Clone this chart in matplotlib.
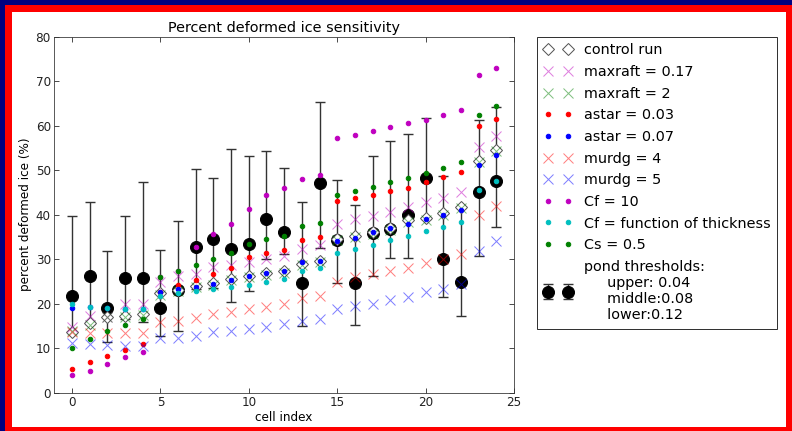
import matplotlib
matplotlib.use("Agg")
import matplotlib.pyplot as plt
import matplotlib.patches as mpatches
import numpy as np

cells = np.arange(25)

control = [13.6, 15.6, 16.9, 17.3, 17.7, 22.3, 23.1, 24.0, 24.6, 25.6, 26.3, 26.8, 27.3,
           29.0, 29.7, 34.5, 35.3, 36.0, 36.9, 38.7, 39.2, 40.3, 41.7, 52.1, 54.5]
maxraft_017 = [14.8, 17.3, 17.0, 19.9, 19.9, 24.9, 26.3, 26.7, 28.2, 28.8, 29.4, 30.1, 30.8,
               32.3, 33.2, 38.0, 39.0, 39.7, 40.6, 41.8, 42.8, 43.8, 45.0, 55.1, 57.6]
maxraft_2 = [13.9, 15.3, 17.1, 17.0, 17.5, 22.0, 22.8, 23.7, 24.3, 25.3, 26.0, 26.5, 27.0,
             28.7, 29.4, 34.2, 35.0, 35.7, 36.6, 38.4, 38.9, 40.0, 41.4, 51.8, 54.2]
astar_003 = [5.4, 6.8, 8.2, 9.6, 10.9, 22.6, 24.1, 25.4, 26.7, 28.1, 30.4, 31.5, 32.1,
             34.3, 35.0, 43.0, 43.7, 44.4, 45.3, 46.1, 47.3, 48.5, 49.7, 59.9, 61.6]
astar_007 = [19.1, 19.2, 19.0, 18.7, 18.7, 22.6, 23.3, 23.8, 24.5, 25.3, 26.2, 26.8, 27.3,
             29.3, 29.7, 34.1, 34.8, 36.0, 37.1, 38.0, 39.0, 40.0, 41.1, 51.1, 53.3]
murdg_4 = [13.6, 13.5, 13.4, 13.3, 13.3, 15.8, 16.2, 16.8, 17.7, 18.1, 18.8, 19.3, 19.9,
           21.2, 21.7, 24.9, 25.9, 26.6, 27.3, 28.1, 29.2, 30.1, 31.1, 39.9, 42.0]
murdg_5 = [11.1, 10.9, 10.7, 10.6, 10.6, 12.2, 12.4, 12.8, 13.7, 13.9, 14.4, 14.7, 15.4,
           16.2, 16.6, 18.9, 19.5, 20.0, 20.8, 21.5, 22.7, 23.4, 24.4, 31.9, 34.1]
cf_10 = [3.9, 4.9, 6.4, 8.1, 9.2, 25.9, 27.3, 32.7, 35.6, 38.0, 41.3, 44.5, 45.9,
         48.1, 48.9, 57.3, 58.0, 58.8, 59.7, 60.5, 61.3, 62.5, 63.6, 71.5, 73.0]
cf_thick = [19.9, 19.2, 19.0, 18.7, 18.7, 21.8, 22.3, 22.8, 23.4, 23.8, 24.3, 24.9, 25.5,
            27.4, 28.0, 31.5, 32.3, 33.2, 34.2, 35.2, 36.3, 37.3, 38.4, 45.6, 47.5]
cs_05 = [10.1, 12.1, 13.9, 15.1, 16.5, 26.0, 27.3, 28.8, 30.0, 31.3, 33.3, 34.5, 35.1,
         37.4, 38.1, 44.5, 45.3, 46.3, 47.3, 48.3, 49.4, 50.6, 51.9, 62.5, 64.5]

pond_mid = [21.8, 26.2, 19.0, 25.8, 25.8, 19.1, 23.1, 32.7, 34.5, 32.3, 33.5, 39.0, 36.1,
            24.6, 47.2, 34.3, 24.6, 35.8, 36.7, 39.9, 48.2, 30.1, 24.9, 45.1, 47.5]
pond_max = [39.8, 42.8, 31.8, 39.6, 47.3, 32.0, 38.5, 50.3, 48.2, 54.8, 53.2, 54.4, 50.6,
            42.8, 65.3, 47.9, 42.1, 53.1, 56.6, 58.1, 61.7, 48.8, 41.5, 61.3, 64.1]
pond_min = [13.5, 15.5, 11.5, 16.6, 15.8, 12.8, 13.9, 23.4, 23.5, 20.3, 22.8, 30.1, 31.1,
            15.0, 32.6, 24.7, 15.1, 26.2, 30.3, 30.3, 39.0, 21.6, 17.2, 30.7, 37.3]

plt.rcParams['font.family'] = 'DejaVu Sans'

fig = plt.figure(figsize=(792 / 72.0, 431 / 72.0), dpi=72, facecolor='#000080')
# red and white frame
fig.patches.append(mpatches.Rectangle((5 / 792., 0), 1, 426 / 431., transform=fig.transFigure,
                                      facecolor='red', edgecolor='none', zorder=-2))
fig.patches.append(mpatches.Rectangle((12 / 792., 4 / 431.), 774 / 792., 415 / 431.,
                                      transform=fig.transFigure,
                                      facecolor='white', edgecolor='none', zorder=-1))

ax = fig.add_axes([0.0686, 0.0889, 0.5804, 0.826])

mid = np.array(pond_mid)
yerr = [mid - np.array(pond_min), np.array(pond_max) - mid]
ax.errorbar(cells, pond_mid, yerr=yerr, fmt='o', color='k', ms=12, ecolor='#333333',
            elinewidth=1.4, capsize=5, capthick=1.4, zorder=2,
            label='pond thresholds:\n     upper: 0.04\n     middle:0.08\n     lower:0.12')

ax.plot(cells, control, 'D', mfc='w', mec='#555555', mew=1, ms=8, label='control run', zorder=3)
ax.plot(cells, maxraft_017, 'x', color='m', alpha=0.5, ms=10, label='maxraft = 0.17', zorder=3)
ax.plot(cells, maxraft_2, 'x', color='g', alpha=0.5, ms=10, label='maxraft = 2', zorder=3)
ax.plot(cells, astar_003, '.', color='r', ms=9, label='astar = 0.03', zorder=3)
ax.plot(cells, astar_007, '.', color='b', ms=9, label='astar = 0.07', zorder=3)
ax.plot(cells, murdg_4, 'x', color='r', alpha=0.5, ms=10, label='murdg = 4', zorder=3)
ax.plot(cells, murdg_5, 'x', color='b', alpha=0.5, ms=10, label='murdg = 5', zorder=3)
ax.plot(cells, cf_10, '.', color='m', ms=9, label='Cf = 10', zorder=3)
ax.plot(cells, cf_thick, '.', color='c', ms=9, label='Cf = function of thickness', zorder=3)
ax.plot(cells, cs_05, '.', color='g', ms=9, label='Cs = 0.5', zorder=3)

ax.set_xlim(-1, 25)
ax.set_ylim(0, 80)
ax.set_xticks([0, 5, 10, 15, 20, 25])
ax.set_yticks(np.arange(0, 81, 10))
ax.tick_params(direction='in', top=True, right=True, length=5, labelsize=12, colors='#222222')
for s in ax.spines.values():
    s.set_color('#333333')
ax.set_xlabel('cell index', fontsize=12, labelpad=2)
ax.set_ylabel('percent deformed ice (%)', fontsize=12)
ax.set_title('Percent deformed ice sensitivity', fontsize=14.4, pad=5)

leg = ax.legend(loc='upper left', bbox_to_anchor=(537 / 792., 1 - 37 / 431.),
                bbox_transform=fig.transFigure, numpoints=2, fontsize=14.4,
                fancybox=False, framealpha=1, edgecolor='#333333', borderaxespad=0,
                labelspacing=0.53, handlelength=2.0, handletextpad=0.8, borderpad=0.45)
leg.get_frame().set_linewidth(1)

fig.savefig('out.png', dpi=72, facecolor=fig.get_facecolor())
